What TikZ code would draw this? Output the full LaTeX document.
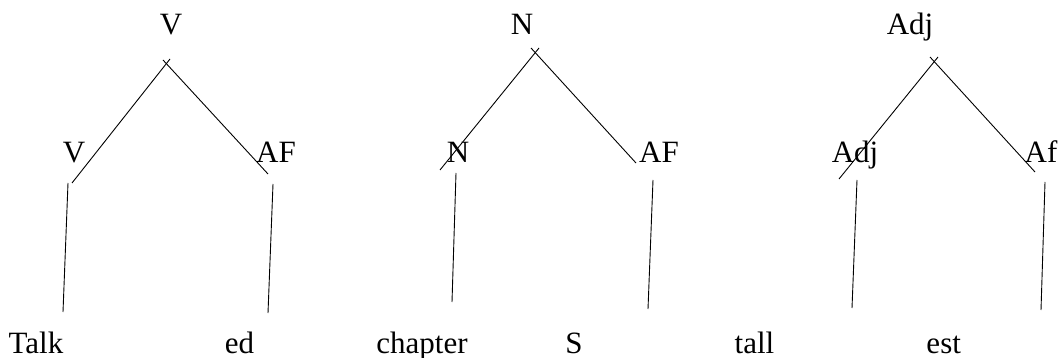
\documentclass[tikz,border=0pt]{standalone}
\usepackage{fontspec}
\setmainfont{Liberation Serif}
\begin{document}
\begin{tikzpicture}[x=1pt,y=-1pt,
  lbl/.style={anchor=base,inner sep=0pt,font=\fontsize{31}{37}\selectfont},
  branch/.style={draw=black,line width=0.9pt}]
\useasboundingbox (0,0) rectangle (1060,358);
% ---------- tree 1 ----------
\node[lbl] (v1)   at (171,35)  {V};
\node[lbl] (v1a)  at (74,163)  {V};
\node[lbl] (af1)  at (276,163) {AF};
\node[lbl] (talk) at (36,353)  {Talk};
\node[lbl] (ed)   at (239.5,353) {ed};
\coordinate (a1L) at (170,59);  \coordinate (a1R) at (163,60);
\coordinate (l1)  at (72,183);  \coordinate (r1)  at (268,174);
\coordinate (vl1t) at (68,183); \coordinate (vl1b) at (63,312);
\coordinate (vr1t) at (273,184); \coordinate (vr1b) at (268,313);
\draw[branch] (a1L) -- (l1);
\draw[branch] (a1R) -- (r1);
\draw[branch] (vl1t) -- (vl1b);
\draw[branch] (vr1t) -- (vr1b);
% ---------- tree 2 ----------
\node[lbl] (n2)   at (522,35)  {N};
\node[lbl] (n2a)  at (458,163) {N};
\node[lbl] (af2)  at (659,163) {AF};
\node[lbl] (chap) at (422,353) {chapter};
\node[lbl] (s2)   at (574,353) {S};
\coordinate (a2L) at (539,48);  \coordinate (a2R) at (531,48);
\coordinate (l2)  at (440,170); \coordinate (r2)  at (636,163);
\coordinate (vl2t) at (456,173); \coordinate (vl2b) at (452,302);
\coordinate (vr2t) at (653,180); \coordinate (vr2b) at (648,309);
\draw[branch] (a2L) -- (l2);
\draw[branch] (a2R) -- (r2);
\draw[branch] (vl2t) -- (vl2b);
\draw[branch] (vr2t) -- (vr2b);
% ---------- tree 3 ----------
\node[lbl] (adj3)  at (910,35)  {Adj};
\node[lbl] (adj3a) at (855,163) {Adj};
\node[lbl] (af3)   at (1041,163) {Af};
\node[lbl] (tall)  at (754.5,353) {tall};
\node[lbl] (est)   at (943.7,353) {est};
\coordinate (a3L) at (938,57);  \coordinate (a3R) at (930,57);
\coordinate (l3)  at (839,179); \coordinate (r3)  at (1035,172);
\coordinate (vl3t) at (857,180); \coordinate (vl3b) at (852,308);
\coordinate (vr3t) at (1045,182); \coordinate (vr3b) at (1041,310);
\draw[branch] (a3L) -- (l3);
\draw[branch] (a3R) -- (r3);
\draw[branch] (vl3t) -- (vl3b);
\draw[branch] (vr3t) -- (vr3b);
\end{tikzpicture}
\end{document}
